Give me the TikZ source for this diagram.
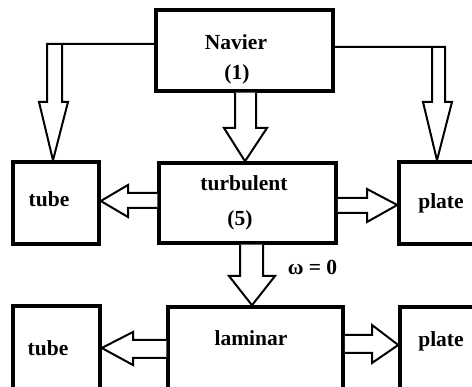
\documentclass[tikz,border=0pt]{standalone}
\usepackage{fontspec}
\setmainfont{Liberation Serif}
\begin{document}
\begin{tikzpicture}[x=1pt,y=-1pt,
  box/.style={draw=black, line width=3.5pt, rectangle, inner sep=0pt},
  harrow/.style={draw=black, line width=2pt, fill=white, line join=miter},
  conn/.style={draw=black, line width=2pt},
  lbl/.style={inner sep=0pt, anchor=base, font=\fontsize{21.5}{24}\selectfont\bfseries}]
\useasboundingbox (0,0) rectangle (472,387);
\clip (0,0) rectangle (472,387);
% boxes
\node[box, minimum width=177pt, minimum height=81pt] (nav) at (244.5,50.5) {};
\node[box, minimum width=86pt, minimum height=82pt] (tube1) at (56,203) {};
\node[box, minimum width=177pt, minimum height=80pt] (turb) at (247.5,203) {};
\node[box, minimum width=90pt, minimum height=82pt] (plate1) at (444,203) {};
\node[box, minimum width=87pt, minimum height=90pt] (tube2) at (56.5,351) {};
\node[box, minimum width=175pt, minimum height=90pt] (lam) at (255.5,352) {};
\node[box, minimum width=90pt, minimum height=90pt] (plate2) at (445,352) {};
% labels
\node[lbl] (tNav) at (236,50) {Navier};
\node[lbl] (tOne) at (237,80) {(1)};
\node[lbl] (tTurb) at (244,191) {turbulent};
\node[lbl] (tFive) at (240,226) {(5)};
\node[lbl] (tTube1) at (49,207) {tube};
\node[lbl] (tPlate1) at (441,209) {plate};
\node[lbl] (tOmega) at (312.5,275) {ω = 0};
\node[lbl] (tLam) at (251,346) {laminar};
\node[lbl] (tTube2) at (48,356) {tube};
\node[lbl] (tPlate2) at (441,347) {plate};
% Navier -> tube (left)
\draw[harrow] (nav.west |- 0,44) -- (47,44) -- (47,102) -- (39,102) -- (tube1.north -| 53,0) -- (68,102) -- (62,102) -- (62,44);
% Navier -> plate (right)
\draw[harrow] (nav.east |- 0,47) -- (445,47) -- (445,102) -- (452,102) -- (plate1.north -| 437,0) -- (423,102) -- (432,102) -- (432,47);
% Navier -> turbulent
\draw[harrow] (nav.south -| 235,0) -- (235,128) -- (224,128) -- (turb.north -| 245,0) -- (267,128) -- (256,128) -- (nav.south -| 256,0);
% turbulent -> tube
\draw[harrow] (turb.west |- 0,193) -- (128,193) -- (128,185) -- (tube1.east |- 0,201) -- (128,217) -- (128,208) -- (turb.west |- 0,208);
% turbulent -> plate
\draw[harrow] (turb.east |- 0,198) -- (367,198) -- (367,189) -- (plate1.west |- 0,205) -- (367,222) -- (367,213) -- (turb.east |- 0,213);
% turbulent -> laminar
\draw[harrow] (turb.south -| 240,0) -- (240,276) -- (229,276) -- (lam.north -| 252,0) -- (275,276) -- (263,276) -- (turb.south -| 263,0);
% laminar -> tube
\draw[harrow] (lam.west |- 0,340) -- (133,340) -- (133,332) -- (tube2.east |- 0,348) -- (133,365) -- (133,358) -- (lam.west |- 0,358);
% laminar -> plate
\draw[harrow] (lam.east |- 0,335) -- (372,335) -- (372,325) -- (plate2.west |- 0,345) -- (372,363) -- (372,353) -- (lam.east |- 0,353);
\end{tikzpicture}
\end{document}
